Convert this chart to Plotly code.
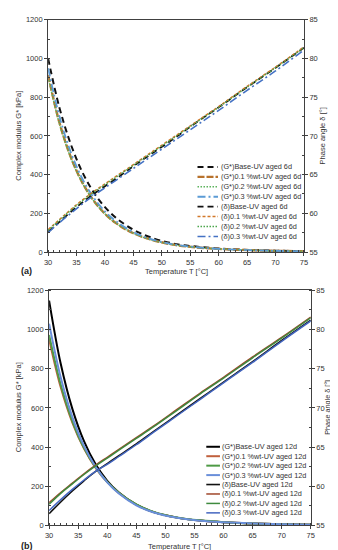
import plotly.graph_objects as go

W, H = 338, 550
FONT = "Liberation Sans, Arial, sans-serif"

# ---------------- data ----------------
T = [30, 32, 34, 36, 38, 40, 42, 45, 48, 52, 56, 60, 65, 70, 75]

# (a) UV aged 6d
G_base_6 = [1000, 745, 556, 414, 309, 232, 175, 115, 76, 44, 28, 18, 11, 7, 4]
G_01_6 = [915, 668, 490, 360, 266, 198, 148, 97, 65, 38, 24, 16, 10, 6, 4]
G_02_6 = [905, 662, 486, 358, 265, 197, 148, 97, 64, 38, 24, 16, 10, 6, 4]
G_03_6 = [950, 700, 515, 380, 282, 210, 158, 103, 68, 40, 25, 16, 10, 6, 4]
d_base_6 = [57.6, 58.9, 60.2, 61.4, 62.5, 63.5, 64.5, 66.1, 67.6, 69.6, 71.7, 73.7, 76.3, 78.8, 81.4]
d_01_6 = [57.9, 59.2, 60.5, 61.7, 62.8, 63.8, 64.8, 66.3, 67.8, 69.8, 71.8, 73.8, 76.4, 78.9, 81.5]
d_02_6 = [57.8, 59.1, 60.4, 61.6, 62.7, 63.7, 64.7, 66.2, 67.7, 69.7, 71.7, 73.7, 76.3, 78.8, 81.4]
d_03_6 = [57.5, 58.8, 60.0, 61.2, 62.3, 63.3, 64.3, 65.8, 67.3, 69.3, 71.3, 73.3, 75.9, 78.4, 81.1]

# (b) UV aged 12d
G_base_12 = [1148, 825, 595, 430, 312, 228, 168, 106, 68, 40, 25, 16, 10, 6, 4]
G_01_12 = [950, 705, 525, 392, 294, 221, 166, 106, 68, 40, 25, 16, 10, 6, 4]
G_02_12 = [972, 718, 533, 396, 296, 222, 167, 107, 69, 41, 26, 17, 10, 6, 4]
G_03_12 = [1030, 755, 553, 406, 299, 220, 163, 103, 66, 39, 24, 16, 10, 6, 4]
d_base_12 = [56.5, 58.0, 59.4, 60.7, 61.9, 62.9, 63.9, 65.4, 67.0, 69.1, 71.2, 73.3, 75.9, 78.6, 81.2]
d_01_12 = [57.9, 59.2, 60.4, 61.6, 62.7, 63.7, 64.7, 66.2, 67.7, 69.8, 71.9, 73.9, 76.5, 79.0, 81.6]
d_02_12 = [57.7, 59.1, 60.3, 61.5, 62.6, 63.6, 64.6, 66.1, 67.6, 69.7, 71.8, 73.8, 76.4, 78.9, 81.5]
d_03_12 = [56.9, 58.3, 59.6, 60.8, 61.9, 62.8, 63.8, 65.3, 66.9, 69.0, 71.1, 73.2, 75.8, 78.5, 81.1]

names_6 = ["(G*)Base-UV aged 6d", "(G*)0.1 %wt-UV aged 6d", "(G*)0.2 %wt-UV aged 6d",
           "(G*)0.3 %wt-UV aged 6d", "(δ)Base-UV aged 6d", "(δ)0.1 %wt-UV aged 6d",
           "(δ)0.2 %wt-UV aged 6d", "(δ)0.3 %wt-UV aged 6d"]
names_12 = ["(G*)Base-UV aged 12d", "(G*)0.1 %wt-UV aged 12d", "(G*)0.2 %wt-UV aged 12d",
            "(G*)0.3 %wt-UV aged 12d", "(δ)Base-UV aged 12d", "(δ)0.1 %wt-UV aged 12d",
            "(δ)0.2 %wt-UV aged 12d", "(δ)0.3 %wt-UV aged 12d"]

series_6 = [G_base_6, G_01_6, G_02_6, G_03_6, d_base_6, d_01_6, d_02_6, d_03_6]
series_12 = [G_base_12, G_01_12, G_02_12, G_03_12, d_base_12, d_01_12, d_02_12, d_03_12]

# ---------------- styles ----------------
style_6 = [
    dict(color="#111111", width=2.0, dash="6px,4px"),
    dict(color="#B8722C", width=2.4, dash="7px,2px"),
    dict(color="#5DB35D", width=1.5, dash="1.5px,1.5px"),
    dict(color="#5B9BD5", width=1.8, dash="8px,3px,2px,3px"),
    dict(color="#111111", width=1.8, dash="6px,4px"),
    dict(color="#D2782A", width=1.5, dash="3px,2px"),
    dict(color="#4CA64C", width=1.4, dash="1.5px,1.5px"),
    dict(color="#4472C4", width=1.6, dash="8px,3px,2px,3px"),
]
style_12 = [
    dict(color="#000000", width=2.0),
    dict(color="#C0603D", width=2.0),
    dict(color="#4E9A45", width=2.0),
    dict(color="#6A8FDA", width=2.0),
    dict(color="#111111", width=1.6),
    dict(color="#A0462A", width=1.5),
    dict(color="#3E8A3E", width=1.5),
    dict(color="#4466C0", width=1.5),
]


def px(x):
    return x / W


def py(y):
    return 1 - y / H


fig = go.Figure()

for i, (vals, nm, st) in enumerate(zip(series_6, names_6, style_6)):
    fig.add_trace(go.Scatter(x=T, y=vals, mode="lines", name=nm, line=dict(shape="spline", **st),
                             xaxis="x", yaxis="y" if i < 4 else "y2", showlegend=False))
for i, (vals, nm, st) in enumerate(zip(series_12, names_12, style_12)):
    fig.add_trace(go.Scatter(x=T, y=vals, mode="lines", name=nm, line=dict(shape="spline", **st),
                             xaxis="x2", yaxis="y3" if i < 4 else "y4", showlegend=False))

AX = "#404040"
tickfont = dict(family=FONT, size=7.5, color="#333333")
common_x = dict(range=[30, 75], dtick=5, tick0=30, showline=True, linecolor=AX, linewidth=1,
                mirror=True, ticks="outside", ticklen=3, tickcolor=AX, showgrid=False,
                zeroline=False, tickfont=tickfont,
                minor=dict(dtick=1, ticks="inside", ticklen=2, tickcolor=AX))
common_yl = dict(range=[0, 1200], dtick=200, showline=True, linecolor=AX, linewidth=1,
                 ticks="outside", ticklen=3, tickcolor=AX, showgrid=False, zeroline=False,
                 tickfont=tickfont, minor=dict(dtick=100, ticks="inside", ticklen=2, tickcolor=AX))
common_yr = dict(range=[55, 85], dtick=5, showline=True, linecolor=AX, linewidth=1,
                 ticks="outside", ticklen=3, tickcolor=AX, showgrid=False, zeroline=False,
                 tickfont=tickfont, side="right",
                 minor=dict(dtick=2.5, ticks="inside", ticklen=2, tickcolor=AX))

fig.update_layout(
    width=W, height=H,
    margin=dict(l=0, r=0, t=0, b=0),
    paper_bgcolor="white", plot_bgcolor="white",
    font=dict(family=FONT, size=7.5, color="#333333"),
    showlegend=False,
    xaxis=dict(domain=[px(37), px(299)], anchor="y", **common_x),
    yaxis=dict(domain=[py(244), py(8)], anchor="x", **common_yl),
    yaxis2=dict(overlaying="y", anchor="x", **common_yr),
    xaxis2=dict(domain=[px(38), px(306)], anchor="y3", **common_x),
    yaxis3=dict(domain=[py(522), py(283)], anchor="x2", **common_yl),
    yaxis4=dict(overlaying="y3", anchor="x2", **common_yr),
)

ann = []
shapes = []
tfont = dict(family=FONT, size=7.5, color="#333333")


def add_text(x, y, text, angle=0, xanchor="center", font=tfont):
    ann.append(dict(x=px(x), y=py(y), xref="paper", yref="paper", text=text, showarrow=False,
                    textangle=angle, xanchor=xanchor, yanchor="middle", font=font))


# axis titles & panel labels
add_text(7, 126, "Complex modulus G* [kPa]", angle=-90)
add_text(318, 126, "Phase angle δ [°]", angle=-90)
add_text(168, 264, "Temperature T [°C]")
add_text(15, 263, "<b>(a)</b>", font=dict(family=FONT, size=9, color="#222222"))
add_text(7, 402, "Complex modulus G* [kPa]", angle=-90)
add_text(323, 402, "Phase angle δ [°]", angle=-90, font=dict(family=FONT, size=7.2, color="#333333"))
add_text(172, 543, "Temperature T [°C]")
add_text(15, 543, "<b>(b)</b>", font=dict(family=FONT, size=9, color="#222222"))


# manual legends (compact row spacing as in the reference)
def legend(names, styles, x0, x1, xt, ytop, step):
    for i, (nm, st) in enumerate(zip(names, styles)):
        yy = ytop + step * i
        line = dict(color=st["color"], width=st["width"])
        if "dash" in st:
            line["dash"] = st["dash"]
        shapes.append(dict(type="line", xref="paper", yref="paper", x0=px(x0), x1=px(x1),
                           y0=py(yy), y1=py(yy), line=line))
        add_text(xt, yy, nm, xanchor="left", font=dict(family=FONT, size=7.3, color="#333333"))


legend(names_6, style_6, 190, 211, 212.5, 157.5, 10.1)
legend(names_12, style_12, 199, 213, 213.5, 442, 9.6)

fig.update_layout(annotations=ann, shapes=shapes)
fig.write_html("out.html")
